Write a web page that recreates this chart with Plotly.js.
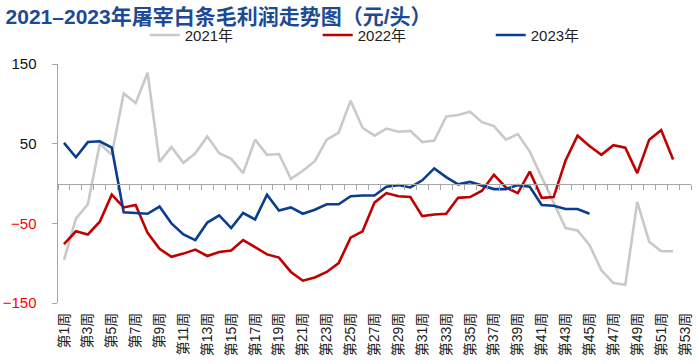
<!DOCTYPE html>
<html>
<head>
<meta charset="utf-8">
<script src="https://cdn.plot.ly/plotly-3.0.1.min.js"></script>
<style>html,body{margin:0;padding:0;background:#fff;}#chart{width:699px;height:364px;}</style>
</head>
<body>
<div id="chart"></div>
<script>
const weeks = Array.from({length: 53}, (_, i) => '第' + (i + 1) + '周');
const tickWeeks = weeks.filter((_, i) => i % 2 === 0);

const y2021 = [-96, -44, -26, 50, 36, 113, 101, 139, 27, 46, 26, 38, 59, 38, 31, 13, 55, 36, 37, 6,
  16, 28, 55, 64, 104, 70, 60, 69, 65, 66, 52, 54, 84, 86, 90, 77, 72, 55, 62, 40,
  8, -25, -56, -59, -77, -109, -125, -127, -23, -73, -85, -85];
const y2022 = [-76, -60, -64, -48, -14, -30, -27, -62, -82, -92, -88, -83, -91, -86, -84, -71, -80, -89, -93, -111,
  -122, -118, -111, -100, -68, -60, -24, -12, -16, -17, -41, -39, -38, -18, -17, -9, 11, -5, -12, 15,
  -18, -17, 29, 60, 47, 36, 48, 45, 13, 55, 67, 30];
const y2023 = [51, 33, 52, 53, 45, -36, -37, -38, -29, -50, -64, -71, -49, -40, -56, -37, -45, -14, -34, -30,
  -38, -33, -26, -26, -16, -15, -15, -4, -2, -5, 4, 19, 8, -1, 2, -3, -7, -7, -2, -4,
  -27, -28, -32, -32, -38];

const yTickVals = [-150, -50, 50, 150];
const yTickText = ['<span style="color:#ff0000">−150</span>', '<span style="color:#ff0000">−50</span>', '50', '150'];
const boundaryTicks = Array.from({length: 54}, (_, i) => i + 0.5);

const traces = [
  {x: weeks.slice(0, y2021.length), y: y2021, name: '2021年', type: 'scatter', mode: 'lines',
   line: {color: '#c9c9c9', width: 2.6}},
  {x: weeks.slice(0, y2022.length), y: y2022, name: '2022年', type: 'scatter', mode: 'lines',
   line: {color: '#c00000', width: 2.6}},
  {x: weeks.slice(0, y2023.length), y: y2023, name: '2023年', type: 'scatter', mode: 'lines',
   line: {color: '#0b3d8f', width: 2.6}},
  {x: [0.5, 53.5], y: [0, 0], xaxis: 'x2', yaxis: 'y', mode: 'lines', showlegend: false, hoverinfo: 'skip',
   line: {color: 'rgba(0,0,0,0)', width: 0}}
];

const layout = {
  width: 699, height: 364,
  margin: {l: 58, r: 8, t: 64, b: 61},
  paper_bgcolor: '#ffffff', plot_bgcolor: '#ffffff',
  font: {family: 'Liberation Sans, Arial, Noto Sans CJK SC, sans-serif', color: '#222'},
  title: {text: '<b>2021–2023年屠宰白条毛利润走势图（元/头）</b>', x: 0.008, xanchor: 'left', y: 0.955, yanchor: 'middle',
    font: {family: 'Liberation Sans, Noto Sans CJK SC, sans-serif', size: 21, color: '#1d4b93'}},
  showlegend: true,
  legend: {orientation: 'h', x: 0.137, xanchor: 'left', y: 1.12, yanchor: 'middle',
    font: {family: 'Liberation Sans, Noto Sans CJK SC, sans-serif', size: 15, color: '#222'},
    entrywidth: 128, entrywidthmode: 'pixels', bgcolor: 'rgba(0,0,0,0)'},
  xaxis: {type: 'category', categoryorder: 'array', categoryarray: weeks, range: [-0.5, 52.5],
    tickmode: 'array', tickvals: tickWeeks, ticktext: tickWeeks, tickangle: -90,
    showline: false, ticks: '', showgrid: false, zeroline: false, ticklabelstandoff: 6,
    tickfont: {family: 'Liberation Sans, Noto Sans CJK SC, sans-serif', size: 14, color: '#222'}},
  xaxis2: {overlaying: 'x', anchor: 'free', position: 0.5, side: 'bottom', range: [0.5, 53.5],
    tickmode: 'array', tickvals: boundaryTicks, showticklabels: false, ticks: 'outside', ticklen: 5,
    tickcolor: '#a6a6a6', showline: true, linecolor: '#a6a6a6', linewidth: 1.5, showgrid: false, zeroline: false},
  yaxis: {range: [-150, 150], tickmode: 'array', tickvals: yTickVals, ticktext: yTickText,
    showline: true, linecolor: '#a6a6a6', linewidth: 1.5, ticks: 'outside', ticklen: 5, tickcolor: '#a6a6a6',
    showgrid: false, zeroline: false, ticklabelstandoff: 12,
    tickfont: {family: 'Liberation Sans, Arial, sans-serif', size: 15, color: '#111'}}
};

Plotly.newPlot('chart', traces, layout, {displayModeBar: false, staticPlot: true});
</script>
</body>
</html>
